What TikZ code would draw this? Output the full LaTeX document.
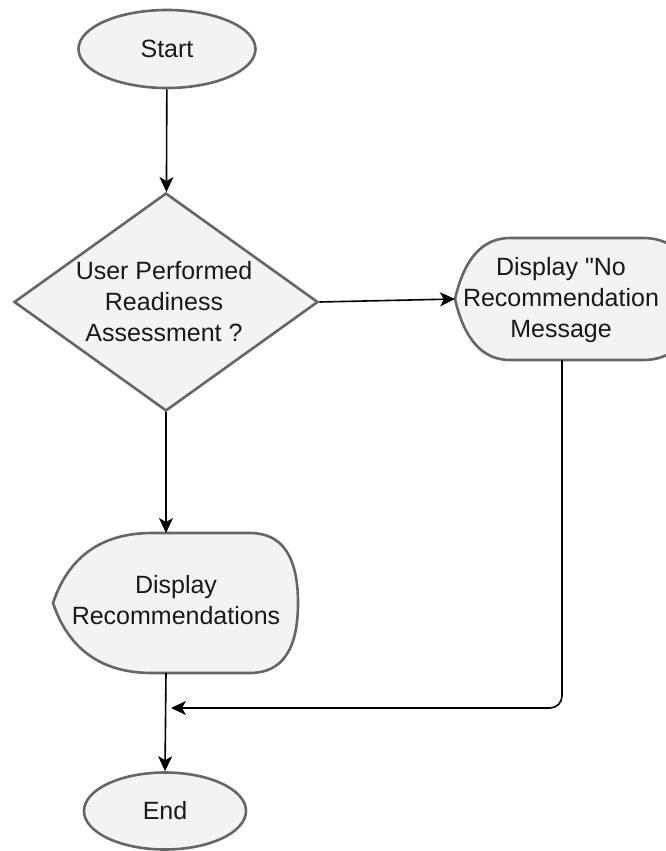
\documentclass[tikz,border=0pt]{standalone}
\usepackage{fontspec}
\setmainfont{Liberation Sans}
% same face without the TeX input mapping, so " stays a straight quote
\newfontfamily\straightquotes{Liberation Sans}
\usetikzlibrary{arrows.meta,shapes.geometric}
\definecolor{shapefill}{HTML}{F3F3F3}
\definecolor{shapeline}{HTML}{666666}

\begin{document}
\begin{tikzpicture}[x=1pt,y=-1pt,
  shapestyle/.style={draw=shapeline, fill=shapefill, line width=2.6pt},
  txt/.style={font=\fontsize{25}{31}\selectfont, text=black!90, align=center, inner sep=0pt},
  terminal/.style={shapestyle, ellipse, inner sep=0pt, font=\fontsize{25}{31}\selectfont, text=black!90},
  decision/.style={shapestyle, diamond, inner sep=0pt},
  flow/.style={draw=black, line width=1.6pt, -{Stealth[length=15pt,width=14pt,inset=4pt]}},
]
\useasboundingbox (0,0) rectangle (665,851);

% start terminal
\node[terminal, minimum width=177pt, minimum height=78pt] (start) at (167,49) {Start};

% decision
\node[decision, minimum width=304pt, minimum height=218pt] (dec) at (166,302) {};
\node[txt] (dectext) at (164,302) {User Performed\\Readiness\\Assessment ?};

% display: no recommendation
\draw[shapestyle] (455,299) .. controls (464.3,258.3) and (482.7,238) .. (510,238)
  -- (643,238) .. controls (675,238) and (691,258.3) .. (691,299)
  .. controls (691,339.7) and (675,360) .. (643,360)
  -- (510,360) .. controls (482.7,360) and (464.3,339.7) .. (455,299) -- cycle;
\coordinate (nomsg-w) at (455,299);
\coordinate (nomsg-s) at (562,360);
\node[txt] (nomsg) at (561,300) {Display {\straightquotes"}No\\Recommendation\\Message};

% display: recommendations
\draw[shapestyle] (53,603) .. controls (68.7,556.3) and (102,533) .. (152,533)
  -- (250,533) .. controls (282,533) and (298,556.3) .. (298,603)
  .. controls (298,649.7) and (282,673) .. (250,673)
  -- (152,673) .. controls (102,673) and (68.7,649.7) .. (53,603) -- cycle;
\coordinate (rec-n) at (166,533);
\coordinate (rec-s) at (166,673);
\node[txt] (rec) at (176,600) {Display\\Recommendations};

% end terminal
\node[terminal, minimum width=162pt, minimum height=77pt] (end) at (165,811) {End};

% connectors
\draw[flow] (start) -- (dec);
\draw[flow] (dec.east) -- (nomsg-w);
\draw[flow] (dec.south) -- (rec-n);
\draw[flow] (rec-s) -- (end.north);
\coordinate (merge) at (166,708);
\draw[flow, rounded corners=12pt] (nomsg-s) |- ([xshift=5pt]merge);
\end{tikzpicture}
\end{document}
